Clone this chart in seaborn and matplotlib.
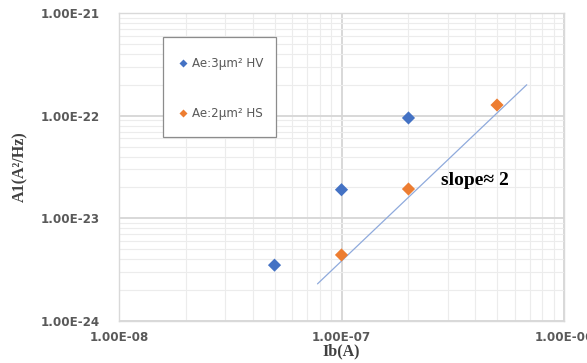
import numpy as np
import pandas as pd
import matplotlib
matplotlib.use("Agg")
import matplotlib.pyplot as plt
from matplotlib.patches import Rectangle
from matplotlib.ticker import LogLocator, FixedLocator, NullFormatter
import seaborn as sns

# Measured noise amplitude vs. base current
ib_hv = [5e-8, 1e-7, 2e-7]
a1_hv = [3.5e-24, 1.9e-23, 9.5e-23]
ib_hs = [1e-7, 2e-7, 5e-7]
a1_hs = [4.4e-24, 1.93e-23, 1.27e-22]
series_names = ["Ae:3µm² HV", "Ae:2µm² HS"]

# Reference line of slope ~2
trend_ib = [7.8e-8, 6.8e-7]
trend_a1 = [2.3e-24, 2.0e-22]

x_ticks = [1e-8, 1e-7, 1e-6]
x_tick_labels = ["1.00E-08", "1.00E-07", "1.00E-06"]
y_ticks = [1e-24, 1e-23, 1e-22, 1e-21]
y_tick_labels = ["1.00E-24", "1.00E-23", "1.00E-22", "1.00E-21"]

df = pd.DataFrame({
    "Ib": ib_hv + ib_hs,
    "A1": a1_hv + a1_hs,
    "series": [series_names[0]] * len(ib_hv) + [series_names[1]] * len(ib_hs),
})

sns.set_style("white")
fig = plt.figure(figsize=(5.87, 3.63), dpi=100)
ax = fig.add_axes([119 / 587, 1 - 321 / 363, (564 - 119) / 587, (321 - 13) / 363])
ax.set_xscale("log")
ax.set_yscale("log")
ax.set_xlim(1e-8, 1e-6)
ax.set_ylim(1e-24, 1e-21)

# Grid: darker decades, lighter subdivisions
ax.xaxis.set_major_locator(FixedLocator(x_ticks))
ax.yaxis.set_major_locator(FixedLocator(y_ticks))
ax.xaxis.set_minor_locator(LogLocator(base=10, subs=np.arange(2, 10)))
ax.yaxis.set_minor_locator(LogLocator(base=10, subs=np.arange(2, 10)))
ax.xaxis.set_minor_formatter(NullFormatter())
ax.yaxis.set_minor_formatter(NullFormatter())
ax.grid(which="major", color="#d6d6d6", linewidth=1.3)
ax.grid(which="minor", color="#ececec", linewidth=0.8)
ax.set_axisbelow(True)
for s in ax.spines.values():
    s.set_color("#d9d9d9")
    s.set_linewidth(1.0)
ax.tick_params(which="both", length=0)

ax.plot(trend_ib, trend_a1, color="#8faadc", linewidth=0.9, zorder=2)

sns.scatterplot(data=df, x="Ib", y="A1", hue="series",
                palette=["#4472c4", "#ed7d31"], marker="D", s=45,
                edgecolor="none", ax=ax, zorder=3, legend=True)

ax.set_xticks(x_ticks)
ax.set_xticklabels(x_tick_labels)
ax.set_yticks(y_ticks)
ax.set_yticklabels(y_tick_labels)
for lbl in ax.get_xticklabels() + ax.get_yticklabels():
    lbl.set_fontsize(8.6)
    lbl.set_fontweight("bold")
    lbl.set_color("#595959")
ax.tick_params(axis="x", pad=7)
ax.tick_params(axis="y", pad=14)

ax.set_xlabel("Ib(A)", fontfamily="Liberation Serif", fontweight="bold",
              fontsize=11.5, color="#404040", labelpad=0)
ax.set_ylabel("A1(A²/Hz)", fontfamily="Liberation Serif", fontweight="bold",
              fontsize=11.5, color="#404040", labelpad=9)

ax.text(3.98e-7, 2.36e-23, "slope≈ 2", fontfamily="Liberation Serif",
        fontweight="bold", fontsize=14, color="black", ha="center",
        va="center")

# Legend box inside the plot area
ax.add_patch(Rectangle(((163 - 119) / 445, (321 - 137) / 308), 113 / 445, 100 / 308,
                       transform=ax.transAxes, fill=True, facecolor="white",
                       edgecolor="#8c8c8c", linewidth=0.9, zorder=4))
leg = ax.legend(loc="upper left", bbox_to_anchor=((178 - 119) / 445, 1 - (57 - 13) / 308),
                frameon=False, fontsize=8.6, labelspacing=3.1,
                handlelength=0.8, handletextpad=0.35, borderpad=0,
                markerscale=0.6, borderaxespad=0, title=None)
leg.set_zorder(5)
for t in leg.get_texts():
    t.set_color("#595959")

fig.savefig("out.png", dpi=100)
